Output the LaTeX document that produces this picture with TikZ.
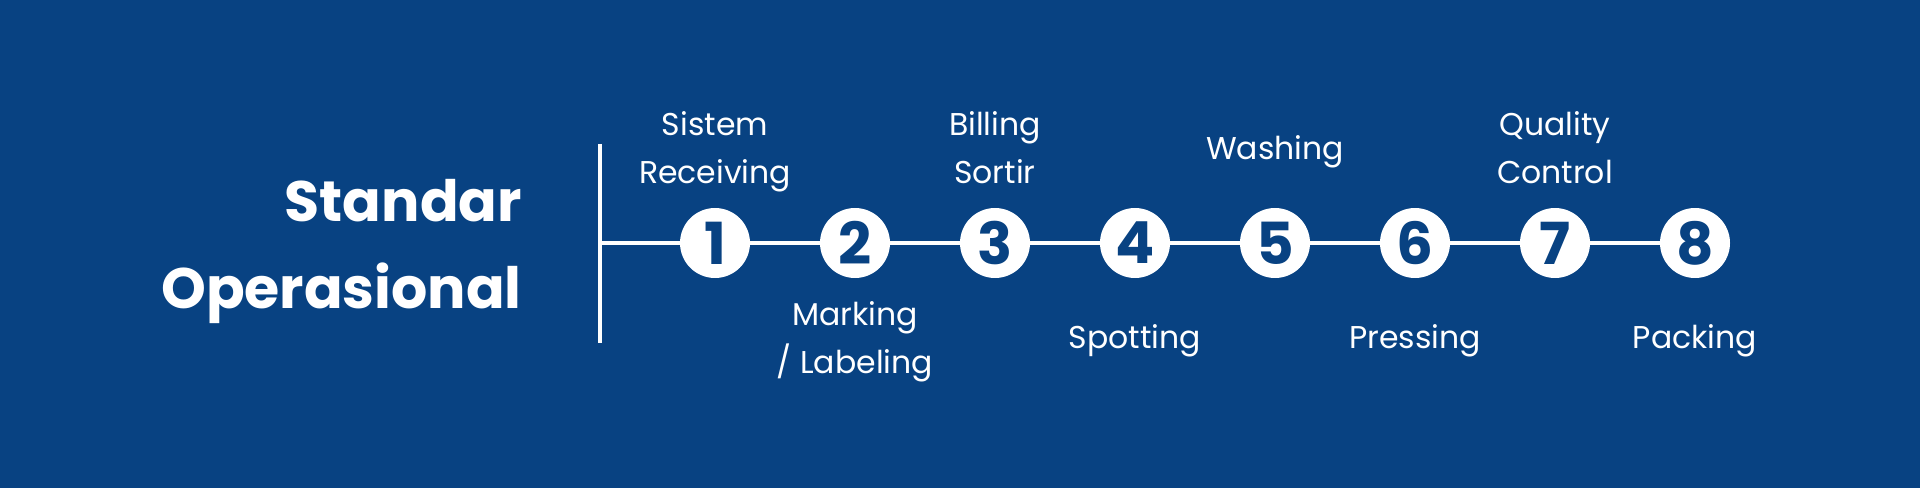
\documentclass[tikz,border=0pt]{standalone}
\usepackage{fontspec}
\setmainfont{Poppins}
\usepackage{tikz}
\usetikzlibrary{positioning}
\definecolor{sopblue}{RGB}{8,66,130}

\begin{document}
\begin{tikzpicture}[x=1pt, y=1pt,
  titletext/.style={anchor=base east, inner sep=0pt, text=white, font=\fontsize{57}{57}\selectfont\bfseries},
  stepcircle/.style={circle, fill=white, minimum size=70pt, inner sep=0pt, text=sopblue, font=\fontsize{58}{58}\selectfont\bfseries},
  steplabel/.style={anchor=base, align=center, inner sep=0pt, text=white, font=\fontsize{31.5}{48}\selectfont},
  axisline/.style={draw=white, line width=3.5pt}]
  \fill[sopblue] (0,0) rectangle (1920,488);
  \useasboundingbox (0,0) rectangle (1920,488);
  \coordinate (top) at (600,344);
  \coordinate (bot) at (600,145);
  \coordinate (axis) at (600,245);
  \node[titletext] (title1) at (522,266) {Standar};
  \node[titletext] (title2) at (522,180) {Operasional};
  \foreach \i in {1,...,8} {\node[stepcircle] (s\i) at ({715+140*(\i-1)},245) {\i};}
  \draw[axisline] (top) -- (bot);
  \draw[axisline] (axis) -- (s1);
  \foreach \i [evaluate=\i as \j using int(\i+1)] in {1,...,7} {\draw[axisline] (s\i) -- (s\j);}
  % two-line labels sit on the baseline of their last line
  \node[steplabel] (l1) at ([yshift=59pt]s1.center) {Sistem\\Receiving};
  \node[steplabel] (l2) at ([yshift=-130pt]s2.center) {Marking\\/ Labeling};
  \node[steplabel] (l3) at ([yshift=59pt]s3.center) {Billing\\Sortir};
  \node[steplabel] (l4) at ([yshift=-105pt]s4.center) {Spotting};
  \node[steplabel] (l5) at ([yshift=83pt]s5.center) {Washing};
  \node[steplabel] (l6) at ([yshift=-105pt]s6.center) {Pressing};
  \node[steplabel] (l7) at ([yshift=59pt]s7.center) {Quality\\Control};
  \node[steplabel] (l8) at ([yshift=-105pt]s8.center) {Packing};
\end{tikzpicture}
\end{document}
